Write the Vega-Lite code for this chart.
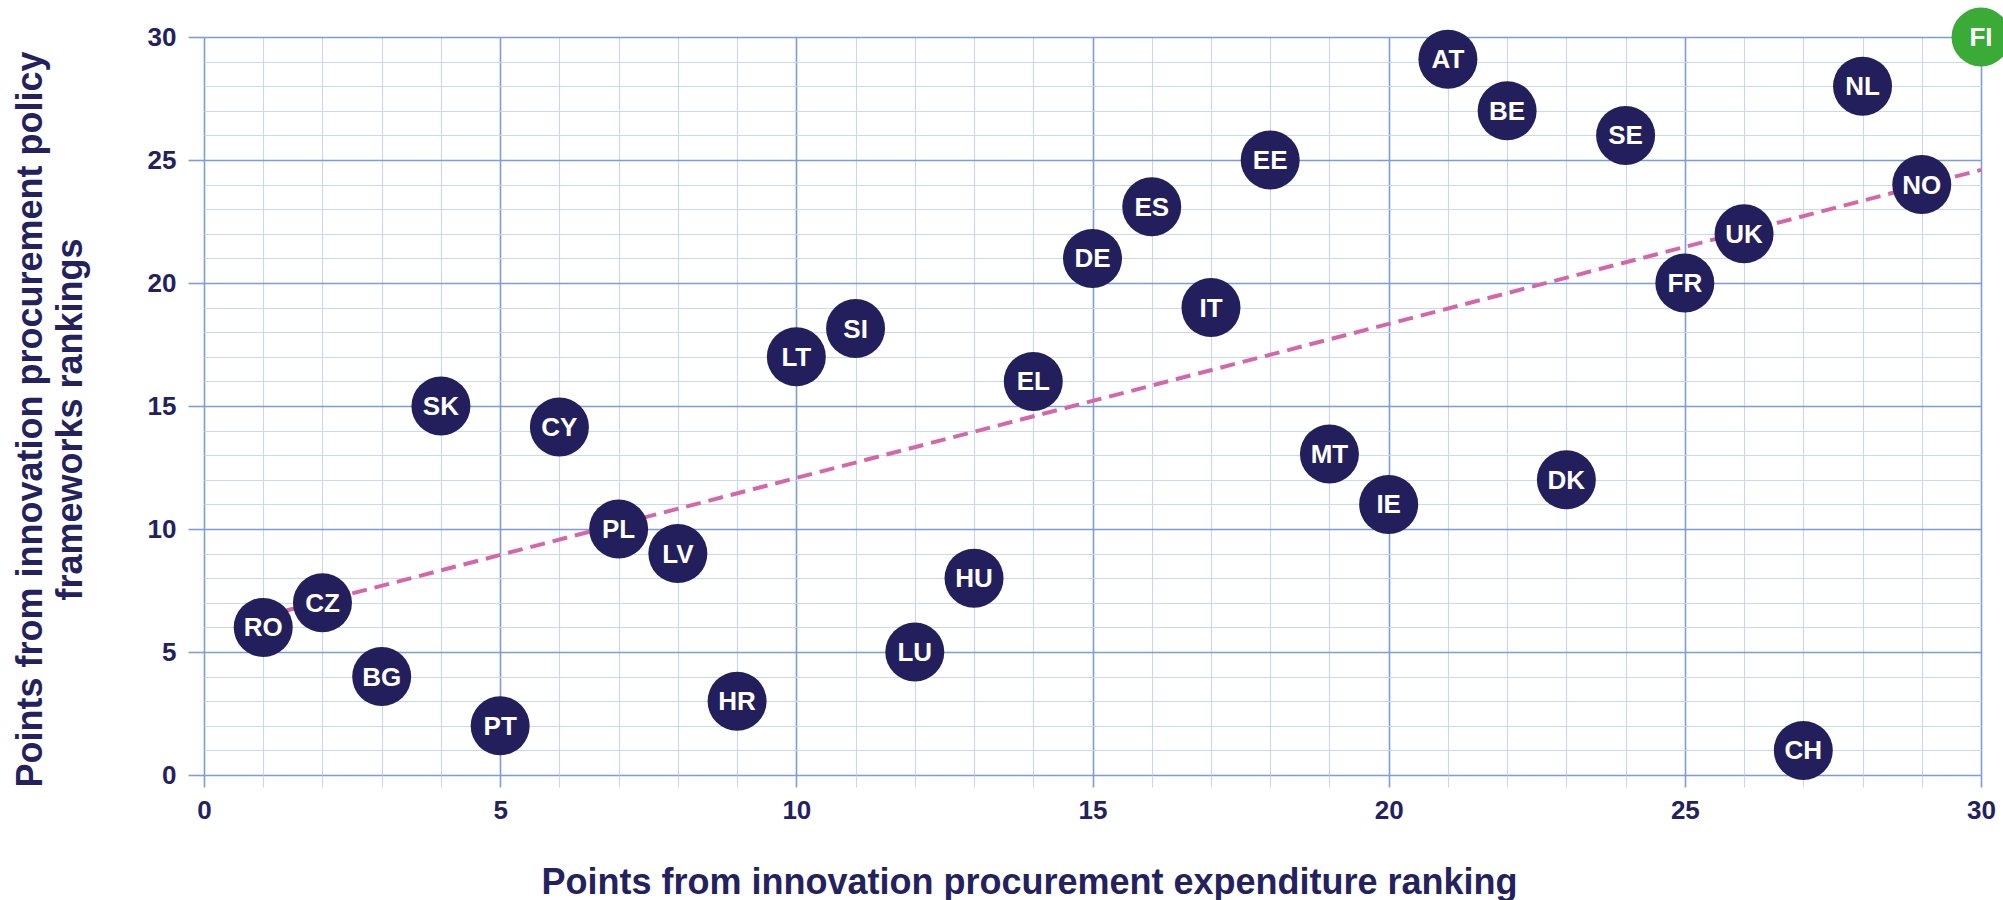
{
  "$schema": "https://vega.github.io/schema/vega-lite/v6.json",
  "width": 1777,
  "height": 738,
  "autosize": "none",
  "padding": {"left": 204, "top": 37, "right": 22, "bottom": 125},
  "background": "white",
  "data": {"values": [
    {"code": "RO", "x": 1, "y": 6},
    {"code": "CZ", "x": 2, "y": 7},
    {"code": "BG", "x": 3, "y": 4},
    {"code": "SK", "x": 4, "y": 15},
    {"code": "PT", "x": 5, "y": 2},
    {"code": "CY", "x": 6, "y": 14.15},
    {"code": "PL", "x": 7, "y": 10},
    {"code": "LV", "x": 8, "y": 9},
    {"code": "HR", "x": 9, "y": 3},
    {"code": "LT", "x": 10, "y": 17},
    {"code": "SI", "x": 11, "y": 18.15},
    {"code": "LU", "x": 12, "y": 5},
    {"code": "HU", "x": 13, "y": 8},
    {"code": "EL", "x": 14, "y": 16},
    {"code": "DE", "x": 15, "y": 21},
    {"code": "ES", "x": 16, "y": 23.1},
    {"code": "IT", "x": 17, "y": 19},
    {"code": "EE", "x": 18, "y": 25},
    {"code": "MT", "x": 19, "y": 13.05},
    {"code": "IE", "x": 20, "y": 11},
    {"code": "AT", "x": 21, "y": 29.1},
    {"code": "BE", "x": 22, "y": 27},
    {"code": "DK", "x": 23, "y": 12},
    {"code": "SE", "x": 24, "y": 26},
    {"code": "FR", "x": 25, "y": 20},
    {"code": "UK", "x": 26, "y": 22},
    {"code": "CH", "x": 27, "y": 1},
    {"code": "NL", "x": 28, "y": 28},
    {"code": "NO", "x": 29, "y": 24},
    {"code": "FI", "x": 30, "y": 30}
  ]},
  "encoding": {
    "x": {
      "field": "x", "type": "quantitative",
      "scale": {"domain": [0, 30], "nice": false, "zero": true},
      "axis": {
        "values": [0,1,2,3,4,5,6,7,8,9,10,11,12,13,14,15,16,17,18,19,20,21,22,23,24,25,26,27,28,29,30],
        "title": "Points from innovation procurement expenditure ranking",
        "titleFont": "Liberation Sans", "titleFontSize": 36, "titleFontWeight": "bold", "titleColor": "#24225e",
        "titleX": 825, "titleY": 118, "titleAlign": "center", "titleBaseline": "alphabetic",
        "domain": false,
        "grid": true,
        "gridColor": {"condition": {"test": "datum.value % 5 === 0", "value": "#7d9dd6"}, "value": "#c8d6ee"},
        "gridWidth": {"condition": {"test": "datum.value % 5 === 0", "value": 1.6}, "value": 1.1},
        "ticks": true, "tickSize": 12,
        "tickColor": {"condition": {"test": "datum.value % 5 === 0", "value": "#7d9dd6"}, "value": "#c8d6ee"},
        "tickWidth": {"condition": {"test": "datum.value % 5 === 0", "value": 1.6}, "value": 1.1},
        "labelExpr": "datum.value % 5 === 0 ? datum.label : ''",
        "labelFont": "Liberation Sans", "labelFontSize": 26, "labelFontWeight": "bold", "labelColor": "#24225e",
        "labelPadding": 10, "labelFlush": false, "labelOverlap": false, "labelBound": false
      }
    },
    "y": {
      "field": "y", "type": "quantitative",
      "scale": {"domain": [0, 30], "nice": false, "zero": true},
      "axis": {
        "values": [0,1,2,3,4,5,6,7,8,9,10,11,12,13,14,15,16,17,18,19,20,21,22,23,24,25,26,27,28,29,30],
        "title": ["Points from innovation procurement policy", "frameworks rankings"],
        "titleFont": "Liberation Sans", "titleFontSize": 36, "titleFontWeight": "bold", "titleColor": "#24225e",
        "titleAngle": -90, "titleX": -163, "titleY": 382, "titleAlign": "center", "titleBaseline": "alphabetic",
        "titleLineHeight": 40,
        "domain": false,
        "grid": true,
        "gridColor": {"condition": {"test": "datum.value % 5 === 0", "value": "#7d9dd6"}, "value": "#ccd8ec"},
        "gridWidth": {"condition": {"test": "datum.value % 5 === 0", "value": 1.6}, "value": 1.1},
        "ticks": true, "tickSize": 16,
        "tickColor": "#7d9dd6",
        "tickWidth": 1.6,
        "tickOpacity": {"condition": {"test": "datum.value % 5 === 0", "value": 1}, "value": 0},
        "labelExpr": "datum.value % 5 === 0 ? datum.label : ''",
        "labelFont": "Liberation Sans", "labelFontSize": 26, "labelFontWeight": "bold", "labelColor": "#24225e",
        "labelPadding": 12, "labelOverlap": false, "labelBound": false, "labelFlush": false
      }
    }
  },
  "layer": [
    {
      "transform": [{"regression": "y", "on": "x", "extent": [1, 30]}],
      "mark": {"type": "line", "color": "#d467a8", "strokeWidth": 4, "strokeDash": [15, 8], "clip": false}
    },
    {
      "mark": {"type": "point", "shape": "circle", "filled": true, "opacity": 1, "size": 3481},
      "encoding": {
        "color": {"condition": {"test": "datum.code === 'FI'", "value": "#3aab37"}, "value": "#221f5c"}
      }
    },
    {
      "mark": {"type": "text", "color": "white", "font": "Liberation Sans", "fontSize": 26, "fontWeight": "bold", "align": "center", "baseline": "middle", "dy": 1},
      "encoding": {"text": {"field": "code", "type": "nominal"}}
    }
  ],
  "config": {"view": {"stroke": null}}
}
